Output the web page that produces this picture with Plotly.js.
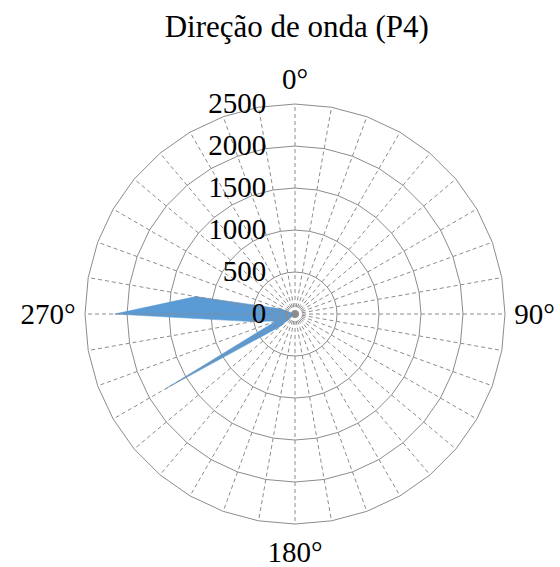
<!DOCTYPE html>
<html>
<head>
<meta charset="utf-8">
<script src="https://cdn.plot.ly/plotly-3.0.1.min.js"></script>
<style>
html,body{margin:0;padding:0;background:#fff}
#chart{width:560px;height:567px}
</style>
</head>
<body>
<div id="chart"></div>
<script>
// Directions (degrees) and counts
const directions = [0,10,20,30,40,50,60,70,80,90,100,110,120,130,140,150,160,170,180,190,200,210,220,230,240,250,260,270,280,290,300,310,320,330,340,350];
const counts = [0,0,0,0,0,0,0,0,0,0,0,0,0,0,0,0,0,0,0,0,0,0,0,230,1780,240,520,2150,1200,180,0,0,0,0,0,0];
const labeledDirections = [0,90,180,270];
const radialMax = 2500;

const cats = directions.map(d => d + '°');
const tickText = directions.map(d => labeledDirections.includes(d) ? d + '°' : '');

// spokes drawn over the filled area (as in the original)
const spokeTheta = [], spokeR = [];
cats.forEach(c => { spokeTheta.push(c, c, null); spokeR.push(0, radialMax, null); });

const fontFam = 'Liberation Serif, serif';
const gray = '#8c8c8c';
const clear = 'rgba(0,0,0,0)';

const data = [
  {
    type: 'scatterpolar', mode: 'lines',
    r: counts.concat([counts[0]]), theta: cats.concat([cats[0]]),
    fill: 'toself', fillcolor: '#5b9bd5',
    line: {color: '#5b9bd5', width: 0.5},
    hoverinfo: 'skip', showlegend: false
  },
  {
    type: 'scatterpolar', mode: 'lines',
    r: spokeR, theta: spokeTheta,
    line: {color: gray, width: 1, dash: '4px,3px'},
    connectgaps: false, hoverinfo: 'skip', showlegend: false
  }
];

const layout = {
  width: 560, height: 567,
  margin: {l: 0, r: 0, t: 0, b: 0},
  paper_bgcolor: '#fff',
  font: {family: fontFam, size: 29, color: '#000'},
  showlegend: false,
  title: {text: 'Direção de onda (P4)', font: {family: fontFam, size: 31, color: '#000'},
          x: 0.53, xanchor: 'center', y: 0.954, yanchor: 'middle'},
  polar: {
    domain: {x: [0.1518, 0.9018], y: [0.0758, 0.8165]},
    bgcolor: '#fff',
    gridshape: 'linear',
    angularaxis: {
      type: 'category', categoryorder: 'array', categoryarray: cats,
      rotation: 90, direction: 'clockwise',
      tickmode: 'array', tickvals: cats, ticktext: tickText,
      showgrid: false, showline: true, linecolor: gray, linewidth: 1,
      ticks: 'outside', ticklen: 3, tickcolor: clear,
      tickfont: {family: fontFam, size: 29, color: '#000'}
    },
    radialaxis: {
      range: [0, radialMax], dtick: 500, tick0: 0,
      angle: 90, side: 'counterclockwise', tickangle: 90,
      showline: false, ticks: 'outside', ticklen: 18, tickcolor: clear,
      gridcolor: gray, gridwidth: 1,
      tickfont: {family: fontFam, size: 29, color: '#000'}
    }
  }
};

Plotly.newPlot('chart', data, layout, {staticPlot: true, displayModeBar: false});
</script>
</body>
</html>
